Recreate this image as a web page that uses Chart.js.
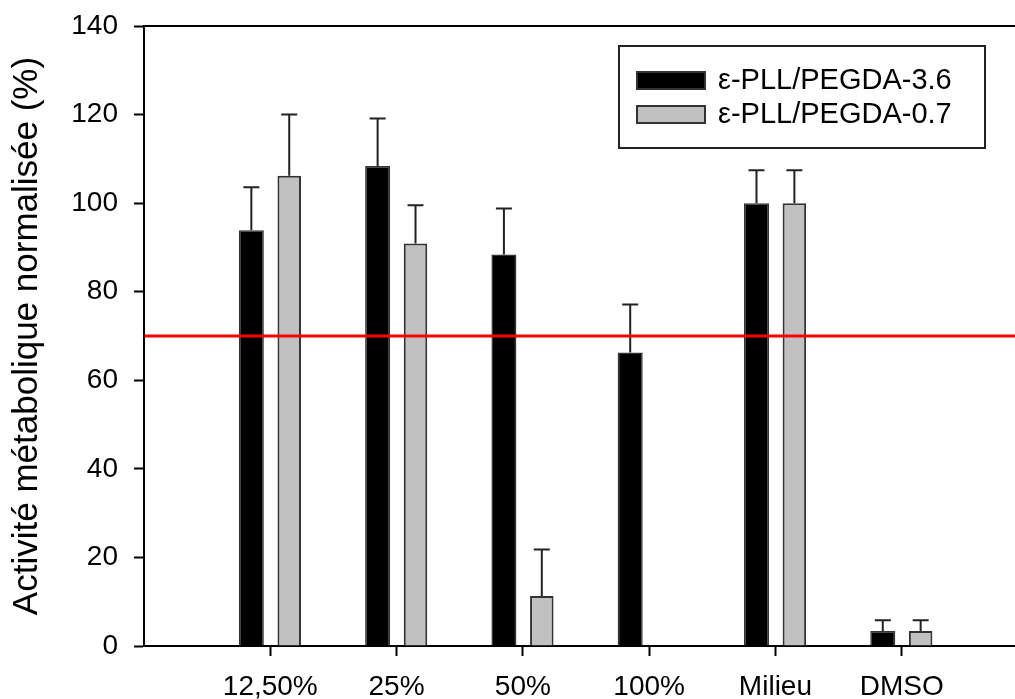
<!DOCTYPE html>
<html>
<head>
<meta charset="utf-8">
<script src="https://cdn.jsdelivr.net/npm/chart.js@4.4.1/dist/chart.umd.min.js"></script>
<style>
    html, body { margin: 0; padding: 0; background: #fff; overflow: hidden; }
    #wrap { width: 1030px; height: 720px; position: relative; }
</style>
</head>
<body>
<div id="wrap"><canvas id="barChart"></canvas></div>
<script>
// Data
const categories = ['12,50%', '25%', '50%', '100%', 'Milieu', 'DMSO'];
const seriesNames = ['\u03b5-PLL/PEGDA-3.6', '\u03b5-PLL/PEGDA-0.7'];
const pegda36 = [93.9, 108.4, 88.4, 66.3, 100, 3.4];
const pegda36Err = [9.7, 10.7, 10.4, 10.8, 7.4, 2.4];
const pegda07 = [106.2, 90.9, 11.3, null, 100, 3.4];
const pegda07Err = [13.8, 8.6, 10.5, null, 7.4, 2.4];
const yTicks = [0, 20, 40, 60, 80, 100, 120, 140];
const thresholdValue = 70;

const FONT = "'Liberation Sans', Arial, sans-serif";

// empty slot on each side so the categories sit where the original axis puts them
const labels = [''].concat(categories, ['']);
const pad = arr => [null].concat(arr, [null]);
const errors = [pad(pegda36Err), pad(pegda07Err)];

// upper error bars, drawn through the y scale
const errorBars = {
    id: 'errorBars',
    afterDatasetsDraw(chart) {
        const ctx = chart.ctx;
        const y = chart.scales.y;
        ctx.save();
        ctx.strokeStyle = '#222';
        ctx.lineWidth = 2;
        chart.data.datasets.forEach((ds, i) => {
            const meta = chart.getDatasetMeta(i);
            meta.data.forEach((bar, j) => {
                const v = ds.data[j];
                const e = errors[i][j];
                if (v == null || e == null) return;
                const top = y.getPixelForValue(v + e);
                ctx.beginPath();
                ctx.moveTo(bar.x, bar.y);
                ctx.lineTo(bar.x, top);
                ctx.moveTo(bar.x - 8, top);
                ctx.lineTo(bar.x + 8, top);
                ctx.stroke();
            });
        });
        ctx.restore();
    }
};

// red threshold line + top frame + legend box
const extras = {
    id: 'extras',
    afterDraw(chart) {
        const ctx = chart.ctx;
        const area = chart.chartArea;
        const yPix = chart.scales.y.getPixelForValue(thresholdValue);
        ctx.save();
        ctx.strokeStyle = '#ff0000';
        ctx.lineWidth = 3;
        ctx.beginPath();
        ctx.moveTo(area.left + 1, yPix);
        ctx.lineTo(area.right, yPix);
        ctx.stroke();

        ctx.strokeStyle = '#000';
        ctx.lineWidth = 2;
        ctx.beginPath();
        ctx.moveTo(area.left, area.top);
        ctx.lineTo(area.right, area.top);
        ctx.stroke();

        // legend
        ctx.strokeStyle = '#222';
        ctx.lineWidth = 2;
        ctx.strokeRect(619, 46, 366, 102);
        const fills = ['#000000', '#c0c0c0'];
        ctx.font = '29px ' + FONT;
        ctx.textBaseline = 'middle';
        ctx.textAlign = 'left';
        seriesNames.forEach((name, i) => {
            const rowY = 72 + i * 34;
            ctx.fillStyle = fills[i];
            ctx.fillRect(637, rowY, 68, 17);
            ctx.strokeStyle = '#333';
            ctx.lineWidth = 2;
            ctx.strokeRect(637, rowY, 68, 17);
            ctx.fillStyle = '#000';
            ctx.fillText(name, 718, rowY + 9);
        });
        ctx.restore();
    }
};

const blankTick = ctx => (ctx.tick && ctx.tick.label === '') ? 'rgba(0,0,0,0)' : '#000';

new Chart(document.getElementById('barChart'), {
    type: 'bar',
    data: {
        labels: labels,
        datasets: [{
            label: seriesNames[0],
            data: pad(pegda36),
            backgroundColor: '#000000',
            borderColor: '#333333',
            borderWidth: 1.5,
            categoryPercentage: 0.6,
            barPercentage: 0.66
        }, {
            label: seriesNames[1],
            data: pad(pegda07),
            backgroundColor: '#c0c0c0',
            borderColor: '#333333',
            borderWidth: 2,
            categoryPercentage: 0.6,
            barPercentage: 0.62
        }]
    },
    options: {
        responsive: true,
        maintainAspectRatio: false,
        animation: false,
        layout: { padding: { top: 26, right: 2, left: 0, bottom: 0 } },
        plugins: {
            legend: { display: false },
            tooltip: { enabled: false }
        },
        scales: {
            x: {
                type: 'category',
                offset: false,
                grid: {
                    offset: false,
                    drawOnChartArea: false,
                    drawTicks: true,
                    tickLength: 10,
                    tickWidth: 2,
                    tickColor: blankTick,
                    color: blankTick
                },
                border: { display: true, color: '#000', width: 2 },
                ticks: {
                    color: '#000',
                    padding: 14,
                    maxRotation: 0,
                    autoSkip: false,
                    font: { family: FONT, size: 28 }
                },
                afterFit(scale) {
                    scale.height = 74;
                    scale.paddingLeft = 0;
                    scale.paddingRight = 0;
                }
            },
            y: {
                min: 0,
                max: 140,
                afterBuildTicks(scale) { scale.ticks = yTicks.map(v => ({ value: v })); },
                grid: {
                    drawOnChartArea: false,
                    drawTicks: true,
                    tickLength: 10,
                    tickWidth: 2,
                    tickColor: '#000'
                },
                border: { display: true, color: '#000', width: 2 },
                ticks: {
                    color: '#000',
                    padding: 16,
                    font: { family: FONT, size: 28 }
                },
                title: {
                    display: true,
                    text: 'Activit\u00e9 m\u00e9tabolique normalis\u00e9e (%)',
                    color: '#000',
                    padding: { top: 6, bottom: 0 },
                    font: { family: FONT, size: 35 }
                },
                afterFit(scale) {
                    scale.width = 144;
                    scale.paddingTop = 0;
                    scale.paddingBottom = 0;
                }
            }
        }
    },
    plugins: [errorBars, extras]
});
</script>
</body>
</html>
